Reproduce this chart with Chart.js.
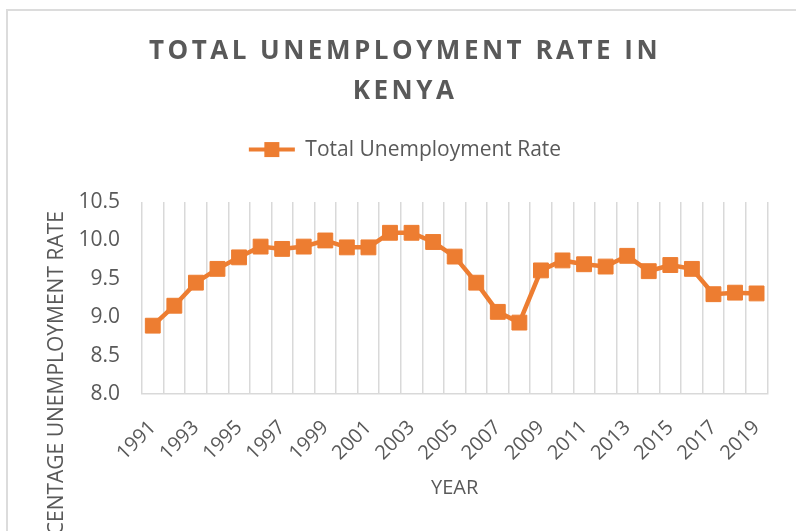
<!DOCTYPE html>
<html>
<head>
<meta charset="utf-8">
<script src="https://cdn.jsdelivr.net/npm/chart.js@4.4.1/dist/chart.umd.min.js"></script>
<style>
  html, body { margin: 0; padding: 0; background: #ffffff; overflow: hidden; }
  #wrap { position: relative; width: 796px; height: 531px; overflow: hidden; }
  #frame { position: absolute; left: 6px; top: 9px; width: 900px; height: 700px; border: 2px solid #dcdcdc; box-sizing: border-box; }
  #c { position: absolute; left: 0; top: 0; }
</style>
</head>
<body>
<div id="wrap">
  <div id="frame"></div>
  <canvas id="c" width="796" height="531"></canvas>
</div>
<script>
const YEARS = ['1991','1992','1993','1994','1995','1996','1997','1998','1999','2000',
               '2001','2002','2003','2004','2005','2006','2007','2008','2009','2010',
               '2011','2012','2013','2014','2015','2016','2017','2018','2019'];
const RATE = [8.89, 9.15, 9.45, 9.63, 9.78, 9.92, 9.89, 9.92, 10.00, 9.91,
              9.91, 10.10, 10.10, 9.98, 9.79, 9.45, 9.07, 8.93, 9.61, 9.74,
              9.69, 9.66, 9.80, 9.60, 9.68, 9.63, 9.30, 9.32, 9.31];
const Y_MIN = 8.0, Y_MAX = 10.5, Y_STEP = 0.5;
const TITLE_LINES = ['TOTAL UNEMPLOYMENT RATE IN', 'KENYA'];
const SERIES_NAME = 'Total Unemployment Rate';
const X_TITLE = 'YEAR';
const Y_TITLE = 'PERCENTAGE UNEMPLOYMENT RATE';

const ORANGE = '#ED7D31';
const GREY_TEXT = '#595959';
const GRID = '#d9d9d9';
const FONT = "'Open Sans', 'Noto Sans', sans-serif";

const LEGEND_EXTRA = 32;
const YTITLE_SHIFT = 9;

const legendMarker = {
  id: 'legendMarker',
  afterDraw(chart) {
    const lg = chart.legend;
    if (!lg || !lg.legendHitBoxes || !lg.legendHitBoxes.length) return;
    const hb = lg.legendHitBoxes[0];
    const bw = lg.options.labels.boxWidth;
    const cx = hb.left + bw / 2;
    const cy = hb.top + hb.height / 2;
    const ctx = chart.ctx;
    ctx.save();
    ctx.fillStyle = ORANGE;
    ctx.fillRect(cx - 7.5, cy - 7.5, 15, 15);
    ctx.restore();
  }
};

const layoutTweaks = {
  id: 'layoutTweaks',
  afterInit(chart) {
    const tb = chart.titleBlock;
    if (tb) {
      const orig = tb.draw.bind(tb);
      tb.draw = function(area) {
        const ctx = chart.ctx;
        ctx.save();
        try { ctx.letterSpacing = '3.5px'; } catch (e) {}
        orig(area);
        ctx.restore();
      };
    }
    const lg = chart.legend;
    if (lg) {
      const of = lg.fit.bind(lg);
      lg.fit = function() { of(); this.height += LEGEND_EXTRA; };
    }
  },
  beforeDraw(chart) {
    const s = chart.scales.y;
    if (s && !s._shiftPatched) {
      const o = s.drawTitle.bind(s);
      s.drawTitle = function() {
        const ctx = chart.ctx;
        ctx.save();
        ctx.translate(0, YTITLE_SHIFT);
        o();
        ctx.restore();
      };
      s._shiftPatched = true;
    }
  }
};

new Chart(document.getElementById('c'), {
  type: 'line',
  data: {
    labels: YEARS,
    datasets: [{
      label: SERIES_NAME,
      data: RATE,
      borderColor: ORANGE,
      backgroundColor: ORANGE,
      borderWidth: 4.5,
      pointStyle: 'rect',
      pointRadius: 10.5,
      pointHoverRadius: 10.5,
      pointBorderWidth: 1,
      pointBackgroundColor: ORANGE,
      pointBorderColor: ORANGE,
      tension: 0,
      fill: false
    }]
  },
  options: {
    responsive: false,
    animation: false,
    devicePixelRatio: 1,
    layout: { padding: { left: 40, right: 26, top: 0, bottom: 27 } },
    plugins: {
      tooltip: { enabled: false },
      title: {
        display: true,
        text: TITLE_LINES,
        color: GREY_TEXT,
        font: { family: FONT, size: 26, weight: 'bold', lineHeight: 1.54 },
        padding: { top: 32, bottom: 15 }
      },
      legend: {
        display: true,
        position: 'top',
        labels: {
          color: GREY_TEXT,
          font: { family: FONT, size: 21 },
          boxWidth: 46,
          boxHeight: 4,
          padding: 12,
          generateLabels(chart) {
            const items = Chart.defaults.plugins.legend.labels.generateLabels(chart);
            items.forEach(it => { it.lineWidth = 0; it.fillStyle = ORANGE; it.strokeStyle = ORANGE; });
            return items;
          }
        }
      }
    },
    scales: {
      x: {
        type: 'category',
        offset: true,
        grid: { display: true, offset: true, color: GRID, lineWidth: 1.5, drawTicks: false },
        border: { display: true, color: GRID, width: 1.5 },
        ticks: {
          autoSkip: false,
          maxRotation: 45,
          minRotation: 45,
          padding: 22,
          color: GREY_TEXT,
          font: { family: FONT, size: 20 },
          callback: function(v, i) { return i % 2 === 0 ? this.getLabelForValue(v) : ''; }
        },
        title: {
          display: true,
          text: X_TITLE,
          color: GREY_TEXT,
          font: { family: FONT, size: 20 },
          padding: { top: 4, bottom: 4 }
        },
        afterFit(scale) { scale.height = 531 - 27 - 394; }
      },
      y: {
        min: Y_MIN,
        max: Y_MAX,
        grid: { display: false, drawTicks: false },
        border: { display: false },
        ticks: {
          stepSize: Y_STEP,
          padding: 22,
          color: GREY_TEXT,
          font: { family: FONT, size: 21 },
          callback: v => Number(v).toFixed(1)
        },
        title: {
          display: true,
          text: Y_TITLE,
          align: 'end',
          color: GREY_TEXT,
          font: { family: FONT, size: 21 },
          padding: { top: 4, bottom: 4 }
        },
        afterFit(scale) { scale.width = 142 - 40; }
      }
    }
  },
  plugins: [legendMarker, layoutTweaks]
});
</script>
</body>
</html>
